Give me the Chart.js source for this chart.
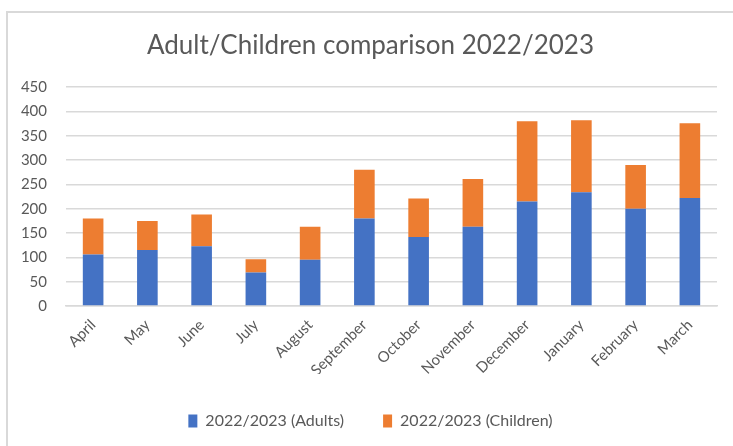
<!DOCTYPE html>
<html>
<head>
<meta charset="utf-8">
<script src="https://cdn.jsdelivr.net/npm/chart.js@4"></script>
<style>
  html, body { margin: 0; padding: 0; background: #fff; overflow: hidden; }
  .frame { position: absolute; left: 6px; top: 11px; width: 900px; height: 600px; border: 2px solid #d9d9d9; }
  .wrap { position: absolute; left: 0; top: 0; width: 733px; height: 446px; }
</style>
</head>
<body>
<div class="frame"></div>
<div class="wrap"><canvas id="chart" width="733" height="446"></canvas></div>
<script>
const months = ['April', 'May', 'June', 'July', 'August', 'September', 'October', 'November', 'December', 'January', 'February', 'March'];
const adults = [106, 115, 123, 69, 95, 180, 142, 163, 215, 234, 200, 222];
const children = [74, 60, 65, 27, 68, 100, 79, 98, 165, 148, 90, 154];
const yTicks = [0, 50, 100, 150, 200, 250, 300, 350, 400, 450];

const grey = '#595959';
const font = 'Lato';

// y labels sit left of the layout padding, so widen their clip box
const unclipY = {
  id: 'unclipY',
  afterLayout(chart) { chart.scales.y.left = 0; }
};

new Chart(document.getElementById('chart').getContext('2d'), {
  type: 'bar',
  data: {
    labels: months,
    datasets: [
      { label: '2022/2023 (Adults)', data: adults, backgroundColor: '#4472C4', barPercentage: 0.38, categoryPercentage: 1 },
      { label: '2022/2023 (Children)', data: children, backgroundColor: '#ED7D31', barPercentage: 0.38, categoryPercentage: 1 }
    ]
  },
  plugins: [unclipY],
  options: {
    responsive: false,
    animation: false,
    layout: { padding: { top: 14, left: 24, right: 16, bottom: 7 } },
    plugins: {
      title: {
        display: true,
        text: 'Adult/Children comparison 2022/2023',
        color: grey,
        font: { family: font, size: 26, weight: 'normal' },
        padding: { top: 16, bottom: 26 }
      },
      legend: {
        position: 'bottom',
        maxHeight: 80,
        labels: {
          color: grey,
          font: { family: font, size: 16 },
          boxWidth: 9,
          boxHeight: 13,
          padding: 39
        }
      },
      tooltip: { enabled: false }
    },
    scales: {
      x: {
        stacked: true,
        grid: { display: false },
        border: { color: '#d9d9d9', width: 1.5 },
        ticks: {
          color: grey,
          font: { family: font, size: 15 },
          minRotation: 45,
          maxRotation: 45,
          padding: 2
        },
        afterFit: (scale) => { scale.height = 68; }
      },
      y: {
        stacked: true,
        min: 0,
        max: 450,
        afterBuildTicks: (scale) => { scale.ticks = yTicks.map(v => ({ value: v })); },
        grid: { color: '#d9d9d9', lineWidth: 1.5, drawTicks: false },
        border: { display: false },
        ticks: {
          color: grey,
          font: { family: font, size: 15 },
          padding: 19
        },
        afterFit: (scale) => { scale.width = 42; }
      }
    }
  }
});
</script>
</body>
</html>
